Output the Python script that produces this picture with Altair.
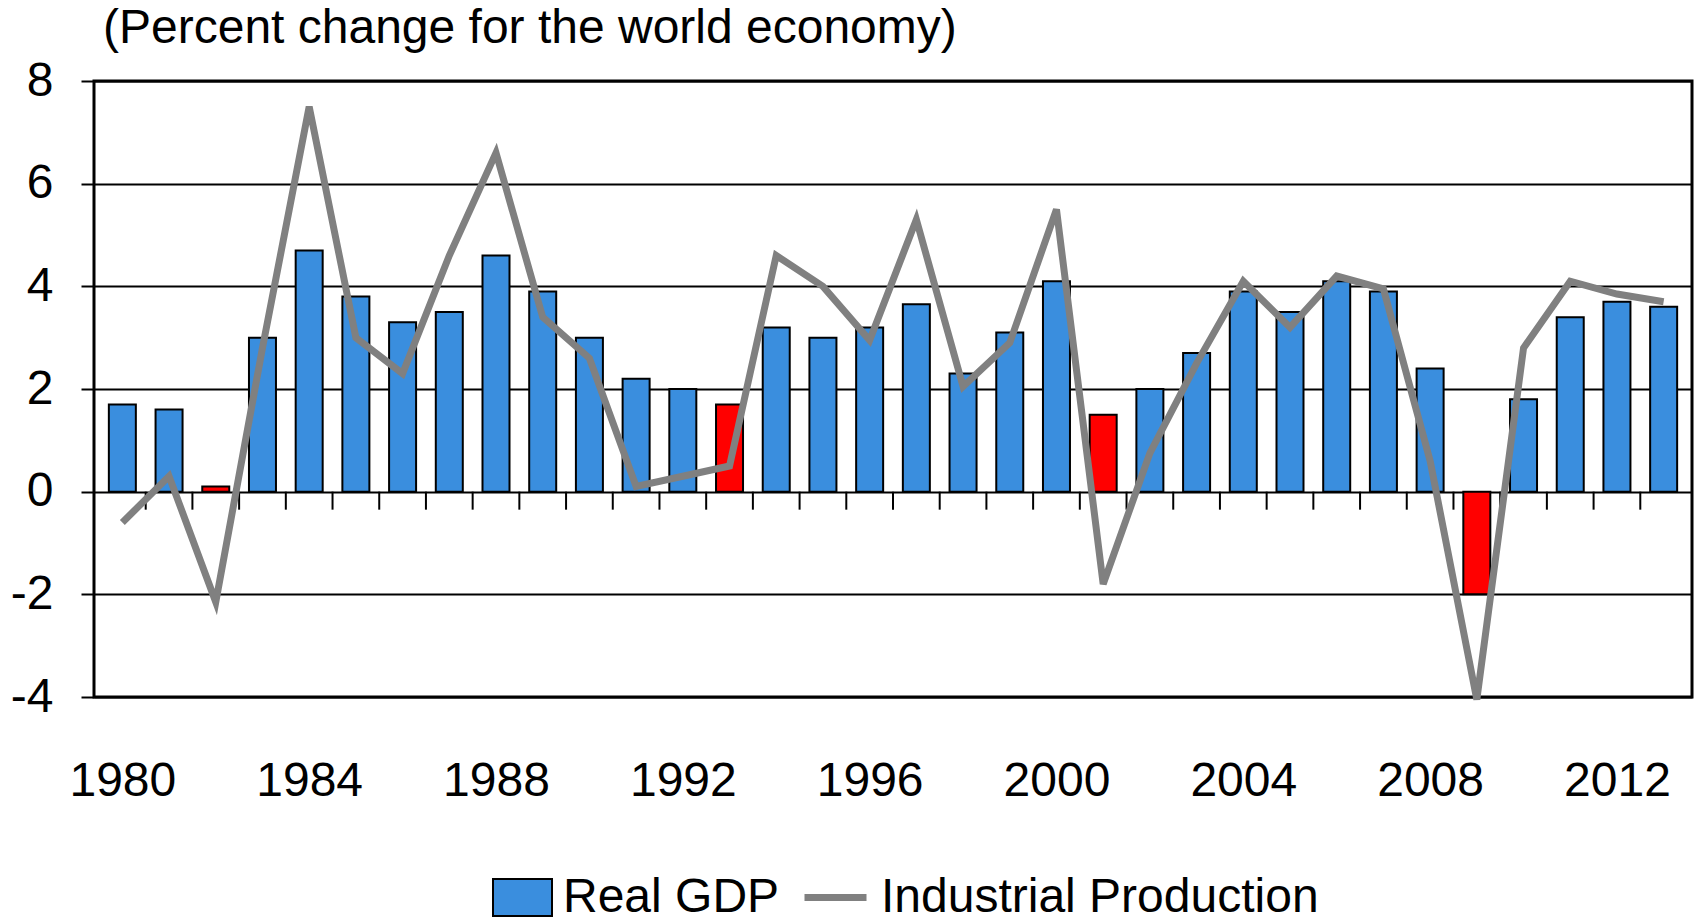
import altair as alt
import pandas as pd

years = list(range(1980, 2014))
real_gdp = [1.7, 1.6, 0.1, 3.0, 4.7, 3.8, 3.3, 3.5, 4.6, 3.9,
            3.0, 2.2, 2.0, 1.7, 3.2, 3.0, 3.2, 3.65, 2.3, 3.1,
            4.1, 1.5, 2.0, 2.7, 3.9, 3.5, 4.1, 3.9, 2.4, -2.0,
            1.8, 3.4, 3.7, 3.6]
industrial_production = [-0.6, 0.3, -2.15, 2.8, 7.5, 3.0, 2.3, 4.6, 6.6, 3.4,
                         2.6, 0.1, 0.3, 0.5, 4.6, 4.0, 2.95, 5.3, 2.05, 2.9,
                         5.5, -1.8, 0.75, 2.5, 4.1, 3.2, 4.2, 3.95, 0.6, -4.05,
                         2.8, 4.1, 3.85, 3.7]
recession_years = [1982, 1993, 2001, 2009]
label_years = [1980, 1984, 1988, 1992, 1996, 2000, 2004, 2008, 2012]
y_ticks = [-4, -2, 0, 2, 4, 6, 8]
boundaries = [y + 0.5 for y in years[:-1]]

FONT = "Liberation Sans"
FS = 48
BLUE = "#3A8EDE"
RED = "#FF0000"
GRAY = "#808080"

df = pd.DataFrame({
    "year": years,
    "gdp": real_gdp,
    "ip": industrial_production,
    "kind": ["Recession" if y in recession_years else "Real GDP" for y in years],
    "series": ["Industrial Production"] * len(years),
})
tick_df = pd.DataFrame({"b": boundaries})

x_scale = alt.Scale(domain=[1979.5, 2013.5], nice=False, zero=False)
y_scale = alt.Scale(domain=[-4, 8], nice=False)

x_enc = alt.X("year:Q", scale=x_scale,
              axis=alt.Axis(values=label_years, format="d", title=None, ticks=False,
                            tickSize=0, domain=False, grid=False, labelFontSize=FS,
                            labelPadding=60, labelFont=FONT, labelColor="black",
                            labelFlush=False))
y_enc = alt.Y("gdp:Q", scale=y_scale,
              axis=alt.Axis(values=y_ticks, title=None, grid=True, gridColor="black",
                            gridWidth=2, gridOpacity=1, tickColor="black", tickWidth=2,
                            tickSize=13, labelPadding=28, domain=False, labelFontSize=FS,
                            labelFont=FONT, labelColor="black",
                            labelExpr="datum.value + ''"))

rect_path = "M-1,-0.63 L1,-0.63 L1,0.63 L-1,0.63 Z"

bars = alt.Chart(df).mark_bar(size=27, stroke="black", strokeWidth=2).encode(
    x=x_enc,
    y=y_enc,
    fill=alt.Fill("kind:N",
                  scale=alt.Scale(domain=["Real GDP", "Recession"], range=[BLUE, RED]),
                  legend=alt.Legend(values=["Real GDP"], title=None, orient="none",
                                    legendX=398, legendY=786, symbolType=rect_path,
                                    symbolSize=3481, symbolStrokeColor="black",
                                    symbolStrokeWidth=2, symbolOpacity=1,
                                    labelFontSize=FS, labelFont=FONT, labelColor="black",
                                    labelOffset=10, labelLimit=0, padding=0)),
)

ticks = alt.Chart(tick_df).mark_tick(orient="vertical", size=18, thickness=2,
                                     color="black", yOffset=9, opacity=1).encode(
    x=alt.X("b:Q", scale=x_scale),
    y=alt.datum(0),
)

line = alt.Chart(df).mark_line(strokeWidth=7, strokeJoin="miter").encode(
    x=alt.X("year:Q", scale=x_scale),
    y=alt.Y("ip:Q", scale=y_scale),
    stroke=alt.Stroke("series:N", scale=alt.Scale(range=[GRAY]),
                      legend=alt.Legend(title=None, orient="none", legendX=707,
                                        legendY=782, symbolType="stroke",
                                        symbolSize=3844, symbolStrokeWidth=7,
                                        labelFontSize=FS, labelFont=FONT,
                                        labelColor="black", labelOffset=11,
                                        labelLimit=0, padding=0)),
)

chart = alt.layer(bars, ticks, line).properties(
    width=1598,
    height=616,
    title=alt.TitleParams("(Percent change for the world economy)", anchor="start",
                          frame="group", fontSize=FS, font=FONT, fontWeight="normal",
                          color="black", dx=9),
    padding={"left": 94, "top": 81, "right": 12, "bottom": 223},
    autosize=alt.AutoSizeParams(type="none"),
).configure_view(stroke="black", strokeWidth=3)

chart.save("out.html", embed_options={"renderer": "svg", "actions": False})
